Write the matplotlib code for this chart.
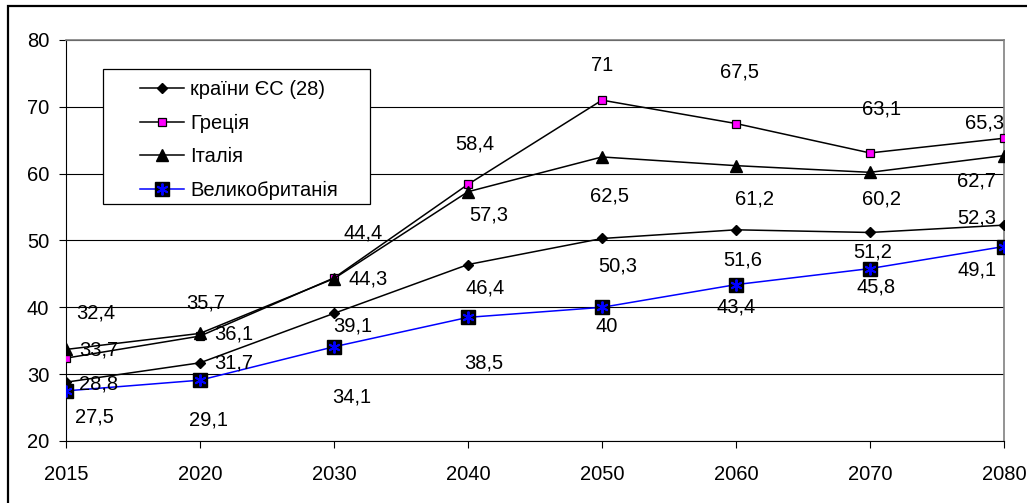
import matplotlib
matplotlib.use("Agg")
import matplotlib.pyplot as plt
from matplotlib.lines import Line2D
from matplotlib.patches import Rectangle
from matplotlib.legend_handler import HandlerTuple

plt.rcParams['font.family'] = ['Liberation Sans', 'DejaVu Sans']

years = ['2015', '2020', '2030', '2040', '2050', '2060', '2070', '2080']
eu = [28.8, 31.7, 39.1, 46.4, 50.3, 51.6, 51.2, 52.3]
greece = [32.4, 35.7, 44.4, 58.4, 71, 67.5, 63.1, 65.3]
italy = [33.7, 36.1, 44.3, 57.3, 62.5, 61.2, 60.2, 62.7]
uk = [27.5, 29.1, 34.1, 38.5, 40, 43.4, 45.8, 49.1]
names = ['країни ЄС (28)', 'Греція', 'Італія', 'Великобританія']
yticks = [20, 30, 40, 50, 60, 70, 80]

# label offsets in pixels (dx, dy up)
eu_off = [(33, -2), (34, 0), (19, -13), (17, -23), (16, -28), (7, -30), (3, -20), (-27, 7)]
gr_off = [(30, 45), (6, 33), (29, 45), (7, 40), (0, 35), (4, 52), (12, 44), (-19, 15)]
it_off = [(33, -1), (34, -1), (34, 0), (21, -23), (8, -39), (19, -33), (12, -27), (-27, -25)]
uk_off = [(28, -26), (9, -40), (18, -50), (16, -46), (5, -19), (0, -22), (6, -18), (-27, -23)]

fig = plt.figure(figsize=(10.27, 5.03), dpi=100)
ax = fig.add_axes([66 / 1027, 1 - 441 / 503, (1004 - 66) / 1027, (441 - 40) / 503])

x = list(range(len(years)))
FS = 14.5
lw = 1.1

ax.plot(x, eu, color='black', lw=lw, marker='D', ms=5.5, mfc='black', mec='black', zorder=4)
ax.plot(x, greece, color='black', lw=lw, marker='s', ms=6, mfc='#FF00FF', mec='black', mew=0.9, zorder=4)
ax.plot(x, italy, color='black', lw=lw, marker='^', ms=8.5, mfc='black', mec='black', zorder=4)
ax.plot(x, uk, color='#0000FF', lw=lw, marker='s', ms=10.5, mfc='black', mec='black', zorder=4)
ax.plot(x, uk, ls='none', marker=(6, 2, 0), ms=8.5, mec='#0000FF', mew=1.4, zorder=5)

def fmt(v):
    return f"{v:g}".replace('.', ',')

for vals, offs in ((eu, eu_off), (greece, gr_off), (italy, it_off), (uk, uk_off)):
    for i, (v, o) in enumerate(zip(vals, offs)):
        ax.annotate(fmt(v), (i, v), xytext=o, textcoords='offset pixels',
                    ha='center', va='center', fontsize=FS, color='black', zorder=6)

ax.set_xlim(0, len(years) - 1)
ax.set_ylim(20, 80)
ax.set_xticks(x)
ax.set_xticklabels(years)
ax.set_yticks(yticks)
ax.tick_params(axis='both', labelsize=FS, direction='out', length=5, width=0.8, color='black')
ax.tick_params(axis='x', pad=12)
ax.tick_params(axis='y', pad=7)
ax.yaxis.grid(True, color='black', lw=0.8)
ax.set_axisbelow(True)
for s in ('top', 'right'):
    ax.spines[s].set_color('#808080')
    ax.spines[s].set_linewidth(1.2)
for s in ('left', 'bottom'):
    ax.spines[s].set_color('black')
    ax.spines[s].set_linewidth(0.8)

# legend box
rect = Rectangle((103 / 1027, 1 - 204 / 503), (370 - 103) / 1027, (204 - 69) / 503,
                 transform=fig.transFigure, facecolor='white', edgecolor='black', lw=0.9, zorder=10)
fig.add_artist(rect)

h_eu = Line2D([], [], color='black', lw=lw, marker='D', ms=5.5, mfc='black')
h_gr = Line2D([], [], color='black', lw=lw, marker='s', ms=6, mfc='#FF00FF', mec='black', mew=0.9)
h_it = Line2D([], [], color='black', lw=lw, marker='^', ms=8.5, mfc='black')
h_uk1 = Line2D([], [], color='#0000FF', lw=lw, marker='s', ms=10.5, mfc='black', mec='black')
h_uk2 = Line2D([], [], ls='none', marker=(6, 2, 0), ms=8.5, mec='#0000FF', mew=1.4)
leg = fig.legend([h_eu, h_gr, h_it, (h_uk1, h_uk2)], names,
                 handler_map={tuple: HandlerTuple(ndivide=1, pad=0)},
                 loc='upper left', bbox_to_anchor=(140 / 1027, 1 - 80 / 503),
                 frameon=False, fontsize=FS, borderpad=0, borderaxespad=0,
                 handlelength=2.2, handletextpad=0.3, labelspacing=0.72)
leg.set_zorder(11)

# outer border
border = Rectangle((8 / 1027, -0.1), 1.2, 1.1 - 6 / 503, transform=fig.transFigure,
                   facecolor='none', edgecolor='black', lw=1.6, zorder=12)
fig.add_artist(border)

fig.savefig('out.png', dpi=100)
